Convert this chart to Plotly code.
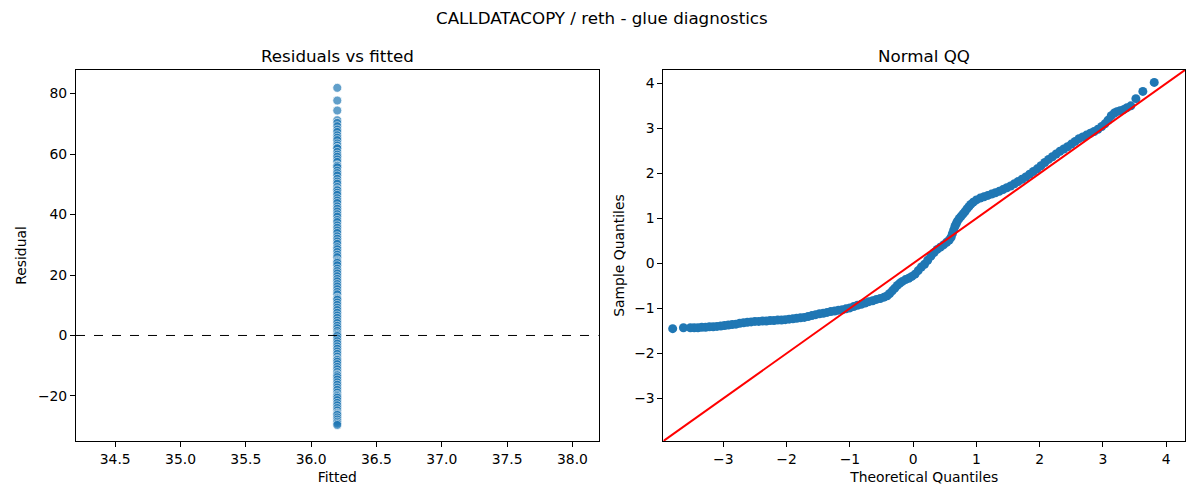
import plotly.graph_objects as go

# figure texts
suptitle = "CALLDATACOPY / reth - glue diagnostics"
left_title = "Residuals vs fitted"
right_title = "Normal QQ"

# residuals vs fitted (one fitted value for every observation)
fitted_value = 36.2
residuals = [81.9, 77.7, 74.4, 71.2, 70.3, 69.2, 68.1, 67.3, 66.2, 65.4, 64.6, 63.5,
             62.8, 62.0, 61.9, 60.7, 59.8, 59.1, 58.2, 57.4, 56.3, 56.1, 55.6, 54.5,
             53.7, 52.9, 51.8, 50.9, 50.2, 49.1, 48.3, 48.0, 47.2, 46.5, 45.4, 44.6,
             43.8, 42.7, 41.9, 41.0, 40.1, 39.3, 38.2, 37.5, 36.4, 35.6, 34.7, 33.9,
             32.8, 32.0, 31.1, 30.3, 29.2, 28.5, 27.6, 26.7, 25.9, 24.8, 24.4, 24.0,
             23.2, 22.1, 21.3, 20.5, 19.6, 18.7, 17.9, 17.0, 16.2, 15.3, 14.4, 13.6,
             12.5, 12.2, 11.8, 10.9, 10.1, 9.2, 8.4, 7.5, 6.6, 5.8, 4.9, 4.1, 3.2,
             2.4, 1.5, 0.7, 0.2, -0.2, -1.0, -1.9, -2.7, -3.6, -4.4, -5.3, -6.1, -7.0,
             -7.8, -8.1, -8.7, -9.5, -10.4, -11.2, -12.1, -12.9, -13.2, -13.8, -14.6,
             -15.5, -16.3, -17.2, -18.0, -18.9, -19.7, -20.1, -20.6, -21.4, -22.3,
             -23.1, -24.0, -24.8, -25.6, -26.0, -26.3, -27.1, -27.8, -28.5, -29.1, -29.6]
fitted = [fitted_value] * len(residuals)

# normal QQ points
qq_theoretical = [-3.80, -3.63, -3.52, -3.46, -3.40, -3.34, -3.28, -3.22, -3.16, -3.10,
                  -3.04, -2.98, -2.92, -2.86, -2.80, -2.74, -2.68, -2.62, -2.56, -2.50,
                  -2.44, -2.38, -2.32, -2.26, -2.20, -2.14, -2.08, -2.02, -1.96, -1.90,
                  -1.84, -1.78, -1.72, -1.66, -1.60, -1.54, -1.48, -1.42, -1.36, -1.30,
                  -1.24, -1.18, -1.12, -1.06, -1.00, -0.94, -0.88, -0.82, -0.76, -0.70,
                  -0.64, -0.58, -0.52, -0.46, -0.41, -0.37, -0.33, -0.29, -0.25, -0.21,
                  -0.17, -0.12, -0.07, -0.02, 0.03, 0.08, 0.13, 0.18, 0.23, 0.28,
                  0.33, 0.38, 0.43, 0.48, 0.53, 0.57, 0.60, 0.62, 0.64, 0.66,
                  0.68, 0.70, 0.73, 0.76, 0.79, 0.82, 0.85, 0.88, 0.91, 0.95,
                  1.00, 1.06, 1.12, 1.18, 1.24, 1.30, 1.36, 1.42, 1.48, 1.54,
                  1.60, 1.66, 1.72, 1.78, 1.84, 1.90, 1.96, 2.02, 2.08, 2.14,
                  2.20, 2.26, 2.32, 2.38, 2.44, 2.50, 2.56, 2.62, 2.68, 2.74,
                  2.80, 2.86, 2.92, 2.98, 3.03, 3.08, 3.13, 3.18, 3.22, 3.27,
                  3.33, 3.38, 3.44, 3.52, 3.63, 3.81]
qq_sample = [-1.45, -1.43, -1.43, -1.43, -1.43, -1.42, -1.42, -1.41, -1.41, -1.40,
             -1.39, -1.38, -1.37, -1.36, -1.35, -1.33, -1.32, -1.31, -1.30, -1.29,
             -1.29, -1.28, -1.28, -1.27, -1.27, -1.26, -1.26, -1.25, -1.24, -1.23,
             -1.22, -1.21, -1.20, -1.18, -1.16, -1.14, -1.12, -1.11, -1.09, -1.07,
             -1.06, -1.04, -1.03, -1.01, -0.99, -0.96, -0.93, -0.91, -0.88, -0.85,
             -0.83, -0.80, -0.78, -0.75, -0.72, -0.67, -0.61, -0.55, -0.49, -0.44,
             -0.40, -0.36, -0.33, -0.29, -0.24, -0.16, -0.08, -0.02, 0.07, 0.16,
             0.24, 0.31, 0.36, 0.41, 0.47, 0.52, 0.58, 0.66, 0.74, 0.82,
             0.88, 0.94, 1.00, 1.05, 1.10, 1.15, 1.21, 1.26, 1.31, 1.36,
             1.41, 1.45, 1.48, 1.51, 1.54, 1.57, 1.60, 1.64, 1.68, 1.72,
             1.77, 1.82, 1.87, 1.92, 1.98, 2.04, 2.10, 2.17, 2.24, 2.31,
             2.37, 2.43, 2.49, 2.54, 2.59, 2.65, 2.71, 2.77, 2.81, 2.85,
             2.89, 2.93, 2.98, 3.04, 3.10, 3.18, 3.28, 3.34, 3.37, 3.39,
             3.42, 3.46, 3.50, 3.66, 3.82, 4.02]

# axes limits and ticks
resid_xlim = [34.2, 38.2]
resid_ylim = [-34.9, 87.8]
resid_xticks = [34.5, 35.0, 35.5, 36.0, 36.5, 37.0, 37.5, 38.0]
resid_xticklabels = ["34.5", "35.0", "35.5", "36.0", "36.5", "37.0", "37.5", "38.0"]
resid_yticks = [-20, 0, 20, 40, 60, 80]
resid_yticklabels = ["\u221220", "0", "20", "40", "60", "80"]
qq_lim = [-3.946, 4.296]
qq_ticks = [-3, -2, -1, 0, 1, 2, 3, 4]
qq_ticklabels = ["\u22123", "\u22122", "\u22121", "0", "1", "2", "3", "4"]

FONT = "DejaVu Sans"
BLUE = "#1f77b4"

fig = go.Figure()

fig.add_trace(go.Scatter(x=fitted, y=residuals, mode="markers",
                         marker=dict(color=BLUE, size=9, opacity=0.7,
                                     line=dict(color="white", width=0.8)),
                         xaxis="x", yaxis="y", showlegend=False))

fig.add_trace(go.Scatter(x=qq_theoretical, y=qq_sample, mode="markers",
                         marker=dict(color=BLUE, size=9),
                         xaxis="x2", yaxis="y2", showlegend=False))

# 45 degree reference line
fig.add_trace(go.Scatter(x=qq_lim, y=qq_lim, mode="lines",
                         line=dict(color="red", width=2),
                         xaxis="x2", yaxis="y2", showlegend=False))

# zero line on residual panel
fig.add_shape(type="line", xref="x domain", yref="y", x0=0, x1=1, y0=0, y1=0,
              line=dict(color="black", width=1, dash="dash"))

axis_common = dict(showgrid=False, zeroline=False, showline=True, mirror=True,
                   linecolor="black", linewidth=1, ticks="outside", ticklen=5,
                   tickcolor="black", tickfont=dict(family=FONT, size=13.9, color="black"))

# the page body adds 8px on top/left, margins compensate for it
fig.update_layout(
    width=1200, height=500,
    margin=dict(l=65, r=23, t=62, b=67),
    paper_bgcolor="white", plot_bgcolor="white",
    font=dict(family=FONT, color="black"),
    xaxis=dict(domain=[0, 0.4712], range=resid_xlim, tickvals=resid_xticks,
               ticktext=resid_xticklabels, anchor="y",
               title=dict(text="Fitted", font=dict(size=13.9), standoff=6),
               **axis_common),
    yaxis=dict(range=resid_ylim, tickvals=resid_yticks, ticktext=resid_yticklabels,
               anchor="x",
               title=dict(text="Residual", font=dict(size=13.9), standoff=8),
               **axis_common),
    xaxis2=dict(domain=[0.5297, 1], range=qq_lim, tickvals=qq_ticks,
                ticktext=qq_ticklabels, anchor="y2",
                title=dict(text="Theoretical Quantiles", font=dict(size=13.9), standoff=6),
                **axis_common),
    yaxis2=dict(range=qq_lim, tickvals=qq_ticks, ticktext=qq_ticklabels, anchor="x2",
                title=dict(text="Sample Quantiles", font=dict(size=13.9), standoff=6),
                **axis_common),
    annotations=[
        dict(text=suptitle, x=0.5, xref="paper", xanchor="center",
             y=(441 - 18) / 371, yref="paper", yanchor="middle", showarrow=False,
             font=dict(family=FONT, size=16.7, color="black"), xshift=-29),
        dict(text=left_title, x=0.5, xref="x domain", xanchor="center",
             y=(441 - 56) / 371, yref="paper", yanchor="middle", showarrow=False,
             font=dict(family=FONT, size=16.7, color="black")),
        dict(text=right_title, x=0.5, xref="x2 domain", xanchor="center",
             y=(441 - 56) / 371, yref="paper", yanchor="middle", showarrow=False,
             font=dict(family=FONT, size=16.7, color="black")),
    ],
)

fig.write_html("out.html")
